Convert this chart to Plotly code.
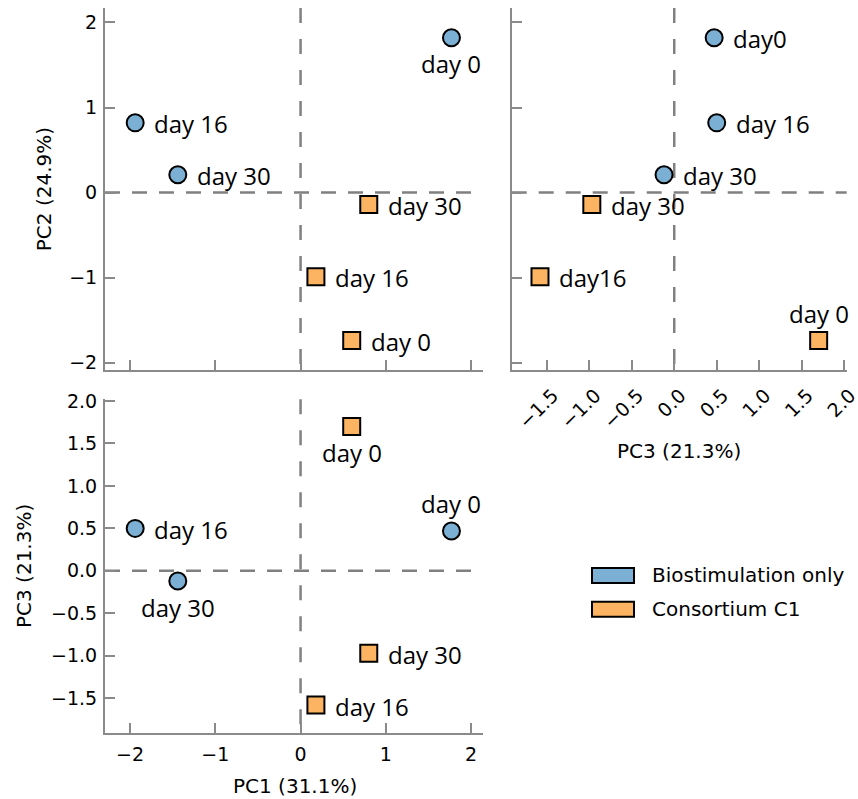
import plotly.graph_objects as go

# ---------------- data ----------------
groups = ["Biostimulation only", "Consortium C1"]
days = ["day 0", "day 16", "day 30"]

pc1_bio = [1.77, -1.94, -1.44]
pc2_bio = [1.82, 0.82, 0.21]
pc3_bio = [0.47, 0.50, -0.12]

pc1_c1 = [0.60, 0.18, 0.80]
pc2_c1 = [-1.74, -0.99, -0.14]
pc3_c1 = [1.70, -1.58, -0.97]

# label texts as printed in each panel
labels_tl_bio = ["day 0", "day 16", "day 30"]
labels_tl_c1 = ["day 0", "day 16", "day 30"]
labels_tr_bio = ["day0", "day 16", "day 30"]
labels_tr_c1 = ["day 0", "day16", "day 30"]
labels_bl_bio = ["day 0", "day 16", "day 30"]
labels_bl_c1 = ["day 0", "day 16", "day 30"]

ticks_pc1 = [-2, -1, 0, 1, 2]
ticks_pc2 = [-2, -1, 0, 1, 2]
ticks_pc3 = [-1.5, -1.0, -0.5, 0.0, 0.5, 1.0, 1.5, 2.0]

title_pc1 = "PC1 (31.1%)"
title_pc2 = "PC2 (24.9%)"
title_pc3 = "PC3 (21.3%)"

# ---------------- style ----------------
W, H = 858, 799
BLUE = "#7BAFD4"
ORANGE = "#FDB462"
AXC = "#8a8a8a"
DASHC = "#808080"
TICKFONT = dict(family="DejaVu Sans", size=19, color="black")
TITLEFONT = dict(family="DejaVu Sans", size=20, color="black")
LABELFONT = dict(family="Open Sans", size=24, color="black")

# label placement per panel: r = right, t = above, b = below
place = {
    ("tl", "bio"): ["b", "r", "r"],
    ("tl", "c1"): ["r", "r", "r"],
    ("tr", "bio"): ["r", "r", "r"],
    ("tr", "c1"): ["t", "r", "r"],
    ("bl", "bio"): ["t", "r", "b"],
    ("bl", "c1"): ["b", "r", "r"],
}


def px_x(p):
    return p / W


def px_y(p):
    return (H - p) / H


fig = go.Figure()

panels = [
    ("tl", "x", "y", (pc1_bio, pc2_bio), (pc1_c1, pc2_c1), (labels_tl_bio, labels_tl_c1)),
    ("tr", "x2", "y2", (pc3_bio, pc2_bio), (pc3_c1, pc2_c1), (labels_tr_bio, labels_tr_c1)),
    ("bl", "x3", "y3", (pc1_bio, pc3_bio), (pc1_c1, pc3_c1), (labels_bl_bio, labels_bl_c1)),
]

annotations = []
shapes = []

for name, xr, yr, bio, c1, labs in panels:
    for key, (xs, ys), color, symbol, lab in [
        ("bio", bio, BLUE, "circle", labs[0]),
        ("c1", c1, ORANGE, "square", labs[1]),
    ]:
        fig.add_trace(go.Scatter(
            x=xs, y=ys, mode="markers", xaxis=xr, yaxis=yr,
            marker=dict(size=17, color=color, symbol=symbol,
                        line=dict(color="black", width=2)),
            showlegend=False, hoverinfo="skip",
        ))
        for xv, yv, t, pos in zip(xs, ys, lab, place[(name, key)]):
            a = dict(x=xv, y=yv, xref=xr, yref=yr, text=t, showarrow=False,
                     font=LABELFONT)
            if pos == "r":
                a.update(xanchor="left", yanchor="middle", xshift=17, yshift=-1)
            elif pos == "t":
                a.update(xanchor="center", yanchor="middle", yshift=27)
            else:
                a.update(xanchor="center", yanchor="middle", yshift=-26)
            annotations.append(a)
    # dashed zero lines (vertical drawn from the top down)
    shapes.append(dict(type="line", xref=xr, yref=yr + " domain", x0=0, x1=0, y0=1, y1=0,
                       line=dict(color=DASHC, width=2.5, dash="15px,16px"), layer="below"))
    shapes.append(dict(type="line", xref=xr + " domain", yref=yr, x0=0, x1=1, y0=0, y1=0,
                       line=dict(color=DASHC, width=2.5, dash="15px,12px"), layer="below"))

axis_common = dict(
    showline=True, linecolor=AXC, linewidth=2, ticks="inside", ticklen=10,
    tickwidth=2, tickcolor=AXC, showgrid=False, zeroline=False, mirror=False,
    tickfont=TICKFONT, automargin=False, ticklabeloverflow="allow",
)

xdom_left = [px_x(105), px_x(483)]
xdom_right = [px_x(511.7), px_x(846.7)]
ydom_top = [px_y(370), px_y(8)]
ydom_bot = [px_y(733.3), px_y(399.3)]

fig.update_layout(
    width=W, height=H,
    margin=dict(l=0, r=0, t=0, b=0),
    paper_bgcolor="white", plot_bgcolor="white",
    showlegend=False,
    xaxis=dict(axis_common, domain=xdom_left, range=[-2.294, 2.14], tickvals=ticks_pc1,
               showticklabels=False, anchor="y"),
    yaxis=dict(axis_common, domain=ydom_top, range=[-2.086, 2.17], tickvals=ticks_pc2,
               anchor="x", ticklabelstandoff=2),
    xaxis2=dict(axis_common, domain=xdom_right, range=[-1.913, 2.03], tickvals=ticks_pc3,
                tickformat=".1f", tickangle=-45, anchor="y2", ticklabelstandoff=5,
                ticklabelshift=6),
    yaxis2=dict(axis_common, domain=ydom_top, range=[-2.086, 2.17], tickvals=ticks_pc2,
                showticklabels=False, anchor="x2"),
    xaxis3=dict(axis_common, domain=xdom_left, range=[-2.294, 2.14], tickvals=ticks_pc1,
                anchor="y3", ticklabelstandoff=3),
    yaxis3=dict(axis_common, domain=ydom_bot, range=[-1.913, 2.02], tickvals=ticks_pc3,
                tickformat=".1f", anchor="x3", ticklabelstandoff=2),
)

annotations += [
    dict(x=px_x(43.7), y=px_y(189.5), xref="paper", yref="paper", text=title_pc2,
         textangle=-90, showarrow=False, font=TITLEFONT, xanchor="center", yanchor="middle"),
    dict(x=px_x(24), y=px_y(566), xref="paper", yref="paper", text=title_pc3,
         textangle=-90, showarrow=False, font=TITLEFONT, xanchor="center", yanchor="middle"),
    dict(x=px_x(679), y=px_y(451), xref="paper", yref="paper", text=title_pc3,
         showarrow=False, font=TITLEFONT, xanchor="center", yanchor="middle"),
    dict(x=px_x(294.5), y=px_y(786), xref="paper", yref="paper", text=title_pc1,
         showarrow=False, font=TITLEFONT, xanchor="center", yanchor="middle"),
]

legend_rows = [(575.5, BLUE, groups[0]), (609.2, ORANGE, groups[1])]
for yc, color, name in legend_rows:
    shapes.append(dict(type="rect", xref="paper", yref="paper",
                       x0=px_x(592), x1=px_x(634), y0=px_y(yc + 7.5), y1=px_y(yc - 7.5),
                       fillcolor=color, line=dict(color="black", width=2)))
    annotations.append(dict(x=px_x(650), y=px_y(yc), xref="paper", yref="paper", text=name,
                            showarrow=False, font=TITLEFONT, xanchor="left", yanchor="middle"))

fig.update_layout(annotations=annotations, shapes=shapes)

fig.write_html("out.html", config={"displayModeBar": False},
               post_script="document.body.style.margin='0px';document.body.style.overflow='hidden';")
